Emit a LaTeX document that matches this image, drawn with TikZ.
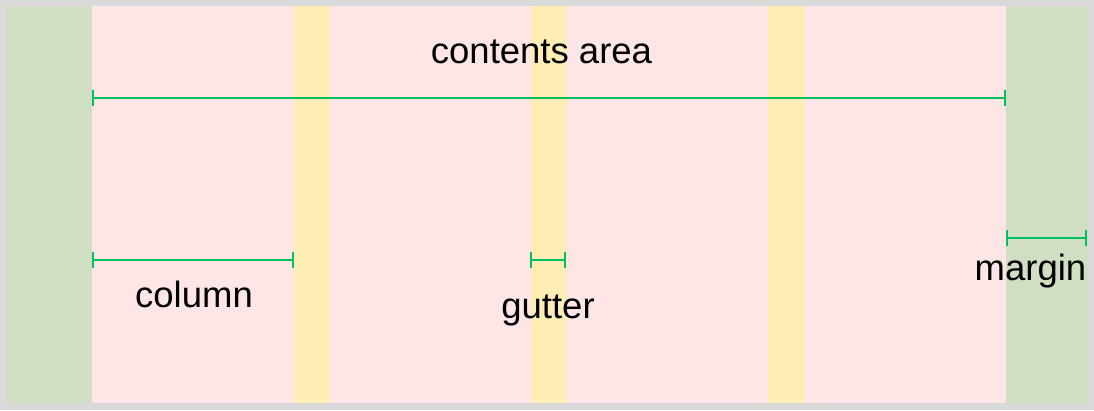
\documentclass[tikz,border=0pt]{standalone}
\usepackage{fontspec}
\setmainfont{Liberation Sans}
\usetikzlibrary{arrows.meta}
\definecolor{bordergray}{HTML}{D9D9D9}
\definecolor{margingreen}{HTML}{D0DEC4}
\definecolor{contentpink}{HTML}{FFE6E6}
\definecolor{gutteryellow}{HTML}{FFEDB5}
\definecolor{measuregreen}{HTML}{00C060}
\tikzset{
  measure/.style={draw=measuregreen, line width=2pt, {Bar[width=16pt,line width=2pt]}-{Bar[width=16pt,line width=2pt]}},
  lbl/.style={font=\fontsize{36.5}{40}\selectfont, anchor=base, inner sep=0pt, text=black},
}
\begin{document}
\begin{tikzpicture}[x=1pt,y=-1pt]
\useasboundingbox (0,0) rectangle (1094,410);
\fill[bordergray] (0,0) rectangle (1094,410);
\fill[margingreen] (6,6) rectangle (1088,403);
\fill[contentpink] (92,6) rectangle (1006,403);
\fill[gutteryellow] (293.5,6) rectangle (329.5,403);
\fill[gutteryellow] (531,6) rectangle (567,403);
\fill[gutteryellow] (768,6) rectangle (804,403);
% endpoints
\coordinate (caL) at (92,97.5);
\coordinate (caR) at (1006,97.5);
\coordinate (colL) at (92,260);
\coordinate (colR) at (294,260);
\coordinate (gutL) at (530,260);
\coordinate (gutR) at (566,260);
\coordinate (marL) at (1006,238);
\coordinate (marR) at (1087,238);
\draw[measure] (caL) -- (caR);
\draw[measure] (colL) -- (colR);
\draw[measure] (gutL) -- (gutR);
\draw[measure] (marL) -- (marR);
% labels
\node[lbl] (contents) at (541.5,63) {contents area};
\node[lbl] (column) at (194,307) {column};
\node[lbl] (gutter) at (548,318) {gutter};
\node[lbl] (margin) at (1030.5,280) {margin};
\end{tikzpicture}
\end{document}
